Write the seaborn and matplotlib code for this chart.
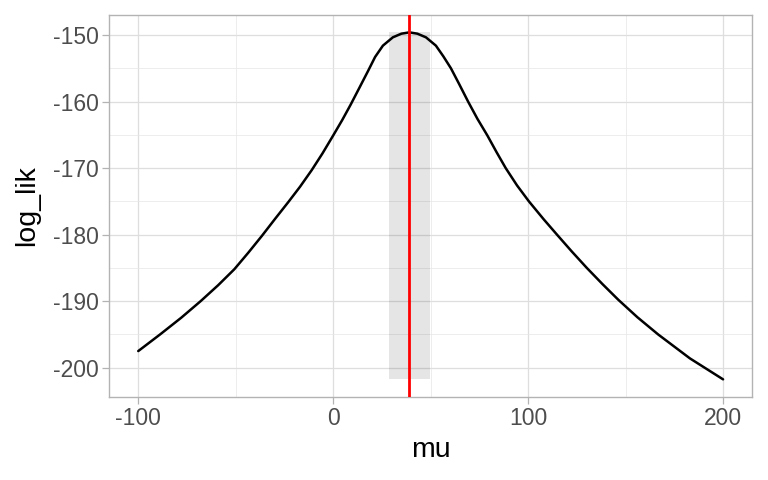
import matplotlib
matplotlib.use("Agg")
import matplotlib.pyplot as plt
import seaborn as sns
import pandas as pd
from matplotlib.ticker import MultipleLocator

# values
mu = [-100, -88.8, -78, -68, -59, -50.7, -43.5, -36.6, -30, -23, -17, -11,
      -5.5, 0, 4.6, 8.9, 13.5, 17.9, 21.5, 25.5, 30.6, 35, 39.1, 43.2, 47.6,
      52.7, 56.5, 60.4, 64.5, 69.2, 74, 79.1, 83.8, 88.5, 94.3, 100.4, 108,
      114.8, 122.3, 130.1, 138.2, 146.3, 156, 166.7, 183, 200]
log_lik = [-197.5, -195, -192.5, -190, -187.6, -185.2, -182.7, -180.2, -177.7,
           -175.1, -172.8, -170.3, -167.8, -165.1, -162.8, -160.5, -157.9,
           -155.4, -153.3, -151.6, -150.35, -149.8, -149.6, -149.8, -150.35,
           -151.6, -153.2, -155, -157.3, -160, -162.6, -165.1, -167.6, -170,
           -172.6, -175, -177.7, -180, -182.5, -185, -187.45, -189.8, -192.4,
           -195, -198.6, -201.75]
mu_hat = 39.1
ci_low = 28.7
ci_high = 49.7

df = pd.DataFrame({"mu": mu, "log_lik": log_lik})

sns.set_theme(style="white")
plt.rcParams["font.family"] = ["Liberation Sans", "DejaVu Sans"]
plt.rcParams["axes.unicode_minus"] = False

fig = plt.figure(figsize=(7.68, 4.8), dpi=100)
ax = fig.add_axes([109 / 768, 1 - 396.7 / 480, (752.3 - 109) / 768, (396.7 - 15) / 480])

# shaded interval spanning the curve's range
ax.fill_between([ci_low, ci_high], min(log_lik), max(log_lik),
                color="black", alpha=0.1, linewidth=0, zorder=2)
sns.lineplot(data=df, x="mu", y="log_lik", color="black", linewidth=1.8,
             ax=ax, zorder=3)
ax.axvline(mu_hat, color="red", linewidth=2.0, zorder=4)

# ggplot-like limits (5% expansion)
xr = max(mu) - min(mu)
ax.set_xlim(min(mu) - 0.05 * xr, max(mu) + 0.05 * xr)
yr = max(log_lik) - min(log_lik)
ax.set_ylim(min(log_lik) - 0.05 * yr, max(log_lik) + 0.05 * yr)

ax.xaxis.set_major_locator(MultipleLocator(100))
ax.xaxis.set_minor_locator(MultipleLocator(50))
ax.yaxis.set_major_locator(MultipleLocator(10))
ax.yaxis.set_minor_locator(MultipleLocator(5))

ax.grid(which="major", color="#DEDEDE", linewidth=0.9, zorder=0)
ax.grid(which="minor", color="#E6E6E6", linewidth=0.5, zorder=0)
ax.set_axisbelow(True)

for s in ax.spines.values():
    s.set_color("#B3B3B3")
    s.set_linewidth(1.0)

ax.tick_params(which="major", length=5, width=0.9, color="#B3B3B3",
               labelsize=16.5, labelcolor="#4D4D4D", pad=2.5, bottom=True, left=True)
ax.tick_params(which="minor", length=0)

ax.set_xlabel("mu", fontsize=20.5, color="black", labelpad=5)
ax.set_ylabel("log_lik", fontsize=20.5, color="black", labelpad=9)

fig.savefig("out.png", dpi=100)
